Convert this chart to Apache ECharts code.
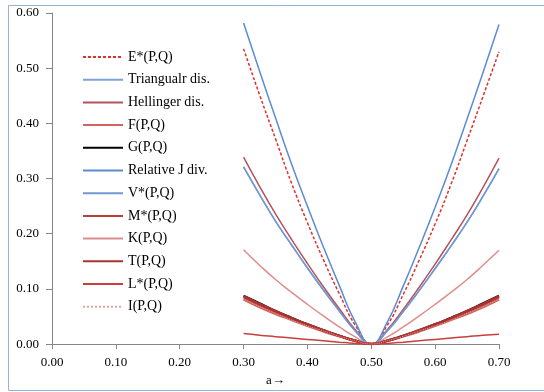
<!DOCTYPE html>
<html>
<head>
<meta charset="utf-8">
<script src="https://cdn.jsdelivr.net/npm/echarts@6/dist/echarts.min.js"></script>
<style>
  html, body { margin: 0; padding: 0; background: #fff; }
  #chart { width: 544px; height: 392px; }
</style>
</head>
<body>
<div id="chart"></div>
<script>
// a values (x axis)
const aVals = [0.30, 0.325, 0.35, 0.375, 0.40, 0.425, 0.45, 0.475, 0.50,
               0.525, 0.55, 0.575, 0.60, 0.625, 0.65, 0.675, 0.70];

// series values
const ePQ     = [0.535, 0.452, 0.372, 0.292, 0.220, 0.153, 0.091, 0.034, 0, 0.034, 0.090, 0.152, 0.218, 0.290, 0.369, 0.449, 0.530];
const triDis  = [0.321, 0.271, 0.223, 0.180, 0.138, 0.098, 0.060, 0.024, 0, 0.024, 0.059, 0.097, 0.137, 0.178, 0.221, 0.268, 0.318];
const helDis  = [0.339, 0.286, 0.236, 0.190, 0.146, 0.104, 0.064, 0.026, 0, 0.026, 0.063, 0.103, 0.145, 0.189, 0.234, 0.284, 0.337];
const fPQ     = [0.081, 0.067, 0.055, 0.044, 0.033, 0.023, 0.014, 0.006, 0, 0.006, 0.014, 0.023, 0.033, 0.044, 0.055, 0.067, 0.081];
const gPQ     = [0.088, 0.074, 0.060, 0.048, 0.036, 0.025, 0.015, 0.006, 0, 0.006, 0.015, 0.025, 0.036, 0.048, 0.060, 0.074, 0.088];
const relJ    = [0.582, 0.495, 0.410, 0.327, 0.250, 0.176, 0.106, 0.040, 0, 0.040, 0.105, 0.175, 0.248, 0.325, 0.408, 0.492, 0.579];
const vPQ     = [0.321, 0.271, 0.223, 0.180, 0.138, 0.098, 0.060, 0.024, 0, 0.024, 0.059, 0.097, 0.137, 0.178, 0.221, 0.268, 0.318];
const mPQ     = [0.085, 0.071, 0.058, 0.046, 0.035, 0.025, 0.015, 0.006, 0, 0.006, 0.015, 0.025, 0.035, 0.046, 0.058, 0.071, 0.085];
const kPQ     = [0.171, 0.143, 0.117, 0.094, 0.072, 0.051, 0.031, 0.013, 0, 0.013, 0.031, 0.051, 0.072, 0.094, 0.117, 0.143, 0.170];
const tPQ     = [0.087, 0.073, 0.060, 0.047, 0.036, 0.025, 0.015, 0.006, 0, 0.006, 0.015, 0.025, 0.036, 0.047, 0.060, 0.073, 0.087];
const lPQ     = [0.019, 0.016, 0.0135, 0.011, 0.0085, 0.006, 0.0035, 0.0013, 0, 0.0013, 0.0035, 0.006, 0.0085, 0.011, 0.0135, 0.016, 0.018];
const iPQ     = [0.082, 0.068, 0.056, 0.044, 0.033, 0.024, 0.014, 0.006, 0, 0.006, 0.014, 0.024, 0.033, 0.044, 0.056, 0.068, 0.082];

const font = 'Liberation Serif';

function pts(vals) {
  return aVals.map((a, i) => [a, vals[i]]);
}

function line(name, vals, color, width, type) {
  return {
    name: name,
    type: 'line',
    smooth: true,
    symbol: 'none',
    data: pts(vals),
    lineStyle: {color: color, width: width, type: type || 'solid'},
    itemStyle: {color: color},
    emphasis: {disabled: true},
    animation: false
  };
}

const chart = echarts.init(document.getElementById('chart'));
chart.setOption({
  animation: false,
  grid: {left: 52, right: 45, top: 13, bottom: 39},
  graphic: [{
    type: 'rect',
    shape: {x: 8.5, y: 5.5, width: 600, height: 385},
    style: {fill: 'none', stroke: '#95b3d7', lineWidth: 1},
    silent: true
  }],
  legend: {
    orient: 'vertical',
    left: 77,
    top: 45,
    padding: 5,
    itemWidth: 40,
    itemHeight: 14,
    itemGap: 8.7,
    itemStyle: {opacity: 0},
    textStyle: {fontFamily: font, fontSize: 14, color: '#000'},
    data: ['E*(P,Q)', 'Triangualr dis.', 'Hellinger dis.', 'F(P,Q)', 'G(P,Q)', 'Relative J div.',
           'V*(P,Q)', 'M*(P,Q)', 'K(P,Q)', 'T(P,Q)', 'L*(P,Q)', 'I(P,Q)']
  },
  xAxis: {
    type: 'value',
    min: 0, max: 0.7, interval: 0.1,
    name: 'a\u2192',
    nameLocation: 'middle',
    nameGap: 28,
    nameTextStyle: {fontFamily: font, fontSize: 13, color: '#000'},
    axisLine: {lineStyle: {color: '#868686'}},
    axisTick: {show: true, length: 5, lineStyle: {color: '#868686'}},
    axisLabel: {fontFamily: font, fontSize: 13, color: '#000', margin: 12,
                formatter: v => v.toFixed(2)},
    splitLine: {show: false}
  },
  yAxis: {
    type: 'value',
    min: 0, max: 0.6, interval: 0.1,
    axisLine: {show: true, lineStyle: {color: '#868686'}},
    axisTick: {show: true, length: 6, lineStyle: {color: '#868686'}},
    axisLabel: {fontFamily: font, fontSize: 13, color: '#000', margin: 13,
                formatter: v => v.toFixed(2)},
    splitLine: {show: false}
  },
  series: [
    line('E*(P,Q)', ePQ, '#e0302e', 1.5, [3, 2]),
    line('Triangualr dis.', triDis, '#7ba3d8', 1.5),
    line('Hellinger dis.', helDis, '#b5535a', 1.5),
    line('F(P,Q)', fPQ, '#cf6461', 2.5),
    line('G(P,Q)', gPQ, '#000000', 2),
    line('Relative J div.', relJ, '#5b8bd0', 1.5),
    line('V*(P,Q)', vPQ, '#6f98d4', 1.5),
    line('M*(P,Q)', mPQ, '#b8413d', 2.5),
    line('K(P,Q)', kPQ, '#dd8d8b', 1.5),
    line('T(P,Q)', tPQ, '#a9332f', 2.5),
    line('L*(P,Q)', lPQ, '#c8403c', 1.5),
    line('I(P,Q)', iPQ, '#e8a2a0', 1, 'dotted')
  ]
});
</script>
</body>
</html>
